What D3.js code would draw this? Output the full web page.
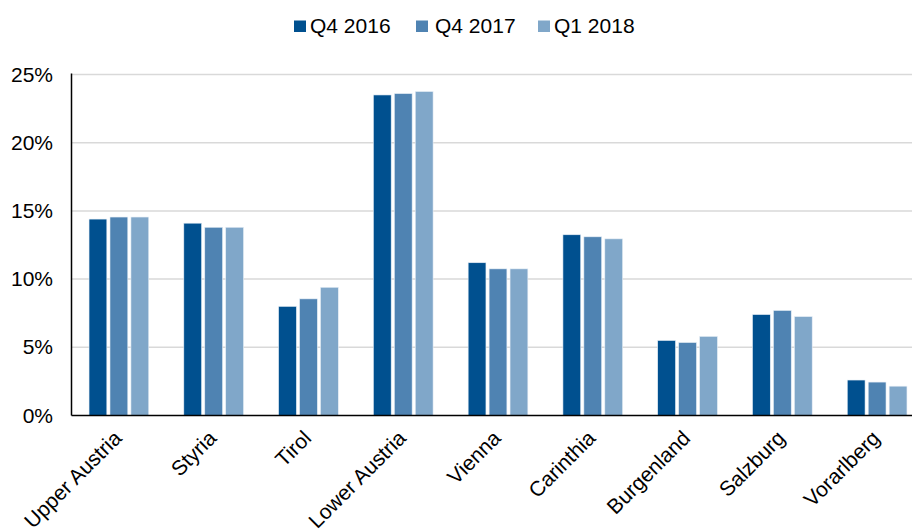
<!DOCTYPE html>
<html>
<head>
<meta charset="utf-8">
<script src="https://cdn.jsdelivr.net/npm/d3@7"></script>
<style>
  body { margin: 0; background: #fff; }
  text { font-family: "Liberation Sans", Arial, sans-serif; fill: #000; }
</style>
</head>
<body>
<div class="chart"></div>
<script>
const regions = ["Upper Austria", "Styria", "Tirol", "Lower Austria", "Vienna", "Carinthia", "Burgenland", "Salzburg", "Vorarlberg"];
const seriesNames = ["Q4 2016", "Q4 2017", "Q1 2018"];
const q4_2016 = [14.4, 14.1, 8.0, 23.5, 11.2, 13.25, 5.5, 7.4, 2.6];
const q4_2017 = [14.55, 13.8, 8.55, 23.6, 10.75, 13.1, 5.35, 7.7, 2.45];
const q1_2018 = [14.55, 13.8, 9.4, 23.75, 10.75, 12.95, 5.8, 7.25, 2.15];
const yTicks = [0, 5, 10, 15, 20, 25];
const colors = ["#00508f", "#4f83b2", "#80a7c9"];

const data = regions.map((r, i) => ({
  region: r,
  values: [q4_2016[i], q4_2017[i], q1_2018[i]]
}));

const width = 912, height = 530;
const plotLeft = 71.5, plotTop = 74.5, plotBottom = 415.5;

const svg = d3.select(".chart")
  .append("svg")
  .attr("width", width)
  .attr("height", height);

const xScale = d3.scaleBand()
  .domain(regions)
  .range([plotLeft, 924.5])
  .paddingInner(0.37)
  .paddingOuter(0.185);

const xInner = d3.scaleBand()
  .domain(seriesNames)
  .range([0, xScale.bandwidth()])
  .paddingInner(0.15);

const yScale = d3.scaleLinear().domain([0, 25]).range([plotBottom, plotTop]);

// gridlines
svg.append("g")
  .selectAll("line")
  .data(yTicks.filter(d => d > 0))
  .enter()
  .append("line")
  .attr("x1", plotLeft)
  .attr("x2", width)
  .attr("y1", d => yScale(d))
  .attr("y2", d => yScale(d))
  .attr("stroke", "#d9d9d9")
  .attr("stroke-width", 1.5);

// y labels
svg.append("g")
  .selectAll("text")
  .data(yTicks)
  .enter()
  .append("text")
  .attr("x", 53)
  .attr("y", d => yScale(d) + 1.5)
  .attr("text-anchor", "end")
  .attr("dominant-baseline", "middle")
  .style("font-size", "21px")
  .text(d => d + "%");

// bars
const groups = svg.selectAll(".grp")
  .data(data)
  .enter()
  .append("g")
  .attr("class", "grp")
  .attr("transform", d => `translate(${xScale(d.region)},0)`);

groups.selectAll("rect")
  .data(d => d.values.map((v, i) => ({ key: seriesNames[i], v: v, i: i })))
  .enter()
  .append("rect")
  .attr("x", d => xInner(d.key))
  .attr("y", d => yScale(d.v))
  .attr("width", xInner.bandwidth())
  .attr("height", d => plotBottom - yScale(d.v))
  .attr("fill", d => colors[d.i])
  .attr("stroke", "#e6eef6")
  .attr("stroke-width", 0.6);

// axes lines
svg.append("line")
  .attr("x1", plotLeft).attr("x2", plotLeft)
  .attr("y1", plotTop - 1).attr("y2", plotBottom)
  .attr("stroke", "#000").attr("stroke-width", 1.5);
svg.append("line")
  .attr("x1", plotLeft).attr("x2", width)
  .attr("y1", plotBottom).attr("y2", plotBottom)
  .attr("stroke", "#000").attr("stroke-width", 1.5);

// x labels
svg.append("g")
  .selectAll("text")
  .data(regions)
  .enter()
  .append("text")
  .attr("text-anchor", "end")
  .attr("transform", d => `translate(${xScale(d) + xScale.bandwidth() / 2 + 4},${plotBottom + 24}) rotate(-45)`)
  .style("font-size", "21px")
  .text(d => d);

// legend
const legendX = [294, 416, 538];
const legend = svg.append("g");
seriesNames.forEach((s, i) => {
  legend.append("rect")
    .attr("x", legendX[i])
    .attr("y", 20.5)
    .attr("width", 12)
    .attr("height", 11.5)
    .attr("fill", colors[i]);
  legend.append("text")
    .attr("x", legendX[i] + (i === 1 ? 19 : 16))
    .attr("y", 33)
    .style("font-size", "21px")
    .text(s);
});
</script>
</body>
</html>
